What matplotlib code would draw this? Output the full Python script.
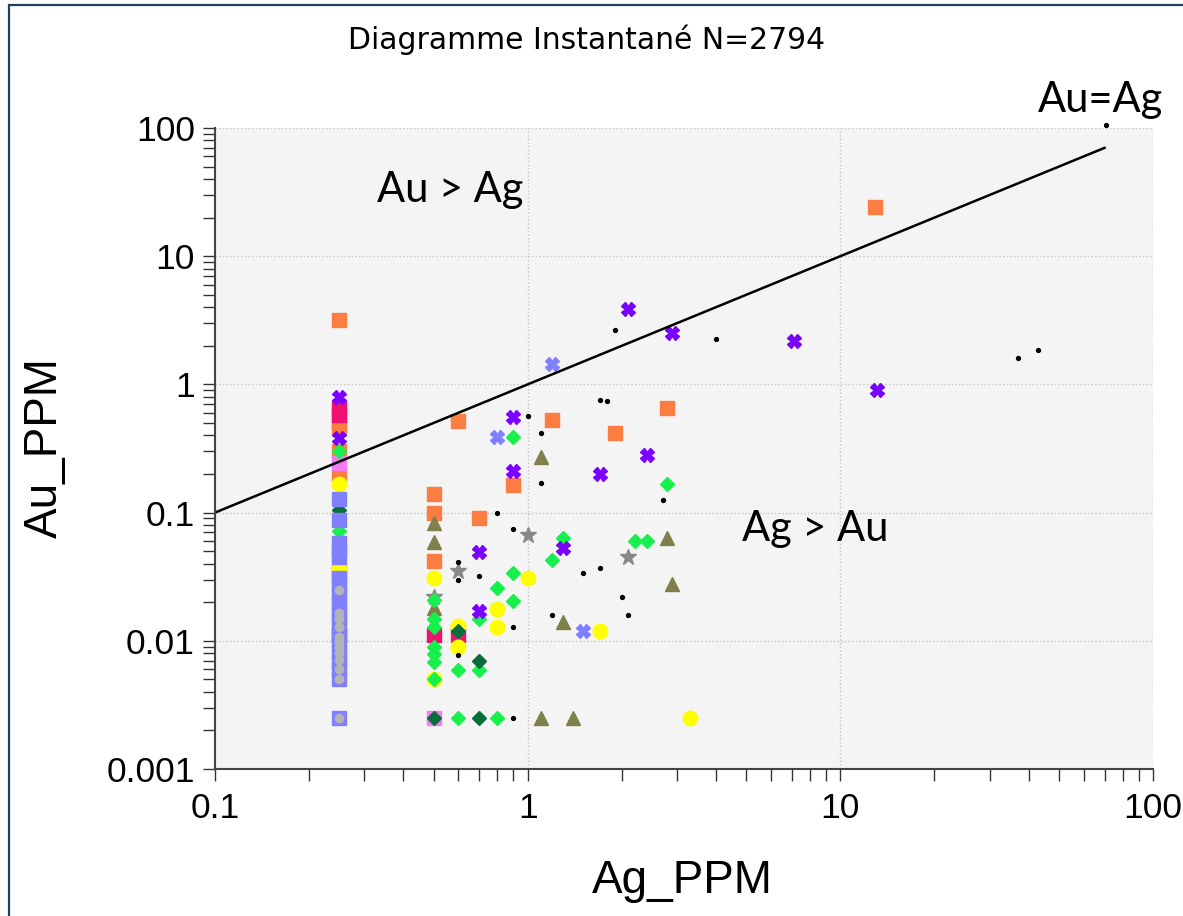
import matplotlib
matplotlib.use('Agg')
import matplotlib.pyplot as plt
from matplotlib.patches import Rectangle
from matplotlib.ticker import FixedLocator, LogLocator, NullFormatter

# data, grouped by legend class (x = Ag_PPM, y = Au_PPM)
orange_x = [0.25, 0.25, 0.25, 0.25, 0.25, 0.5, 0.5, 0.5, 0.6, 0.7, 0.9, 1.2, 1.9, 2.8, 12.9]
orange_y = [3.2, 0.5, 0.46, 0.3, 0.2, 0.139, 0.1, 0.042, 0.52, 0.09, 0.164, 0.53, 0.42, 0.66, 24]

magenta_x = [0.25, 0.25, 0.25, 0.25, 0.5, 0.6]
magenta_y = [0.65, 0.58, 0.035, 0.011, 0.011, 0.011]

pink_x = [0.25, 0.5]
pink_y = [0.245, 0.0025]

yellow_x = [0.25, 0.25, 0.5, 0.5, 0.6, 0.6, 0.8, 0.8, 1.0, 1.7, 3.3]
yellow_y = [0.167, 0.037, 0.031, 0.005, 0.0131, 0.0089, 0.0177, 0.0128, 0.031, 0.012, 0.0025]

olive_x = [0.5, 0.5, 0.5, 1.1, 1.1, 1.3, 1.4, 2.8, 2.9]
olive_y = [0.083, 0.059, 0.018, 0.27, 0.0025, 0.014, 0.0025, 0.063, 0.0276]

star_x = [0.5, 0.6, 1.0, 2.1]
star_y = [0.022, 0.035, 0.067, 0.045]

green_x = [0.25, 0.25, 0.5, 0.5, 0.5, 0.5, 0.5, 0.5, 0.5, 0.6, 0.6, 0.7, 0.7,
           0.8, 0.8, 0.9, 0.9, 0.9, 1.2, 1.3, 2.2, 2.4, 2.8]
green_y = [0.30, 0.072, 0.0208, 0.0148, 0.0128, 0.0089, 0.0079, 0.0068, 0.005, 0.0059, 0.0025, 0.0148, 0.0059,
           0.026, 0.0025, 0.39, 0.034, 0.0204, 0.043, 0.063, 0.06, 0.06, 0.166]

dkgreen_x = [0.25, 0.5, 0.6, 0.7, 0.7]
dkgreen_y = [0.105, 0.0025, 0.012, 0.007, 0.0025]

lavender_x = [0.25] * 19
lavender_y = [0.128, 0.088, 0.058, 0.051, 0.045, 0.031, 0.027, 0.023, 0.02, 0.017,
              0.015, 0.013, 0.011, 0.0095, 0.0082, 0.007, 0.006, 0.005, 0.0025]

grey_x = [0.25] * 12
grey_y = [0.025, 0.0164, 0.0149, 0.0128, 0.0107, 0.0098, 0.0089, 0.008, 0.0071, 0.006, 0.005, 0.0025]

purple_x = [0.25, 0.25, 0.7, 0.7, 0.9, 0.9, 1.3, 1.7, 2.1, 2.4, 2.9, 7.1, 13.1]
purple_y = [0.8, 0.38, 0.049, 0.017, 0.56, 0.21, 0.053, 0.2, 3.9, 0.28, 2.5, 2.2, 0.9]

bluex_x = [0.8, 1.2, 1.5]
bluex_y = [0.39, 1.45, 0.012]

dot_x = [0.6, 0.6, 0.6, 0.7, 0.8, 0.9, 0.9, 0.9, 1.0, 1.1, 1.1, 1.2, 1.5, 1.7, 1.7, 1.8,
         1.9, 2.0, 2.1, 2.7, 4.0, 37, 43, 71]
dot_y = [0.041, 0.03, 0.0077, 0.032, 0.1, 0.0745, 0.0128, 0.0025, 0.57, 0.42, 0.17, 0.016, 0.034, 0.037, 0.75, 0.74,
         2.65, 0.022, 0.016, 0.126, 2.25, 1.6, 1.85, 105]

line_x = [0.1, 70]
line_y = [0.1, 70]

x_ticks = [0.1, 1, 10, 100]
x_labels = ['0.1', '1', '10', '100']
y_ticks = [0.001, 0.01, 0.1, 1, 10, 100]
y_labels = ['0.001', '0.01', '0.1', '1', '10', '100']

W, H = 1183, 916
fig = plt.figure(figsize=(W / 100, H / 100), dpi=100)
fig.patches.append(Rectangle((9 / W, -0.02), 1.1, 1 - 5 / H + 0.02, transform=fig.transFigure,
                             fill=False, edgecolor='#22405e', linewidth=1.6))

ax = fig.add_axes([215 / W, 1 - 769 / H, (1153 - 215) / W, (769 - 128) / H])
ax.set_facecolor('#f4f4f4')
ax.set_xscale('log')
ax.set_yscale('log')
ax.set_xlim(0.1, 100)
ax.set_ylim(0.001, 100)

kw = dict(linestyle='none', clip_on=False)
ax.plot(orange_x, orange_y, marker='s', markersize=10, color='#fb7d42', **kw)
ax.plot(magenta_x, magenta_y, marker='s', markersize=10, color='#ef1070', **kw)
ax.plot(pink_x, pink_y, marker='s', markersize=10, color='#f37cf3', **kw)
ax.plot(yellow_x, yellow_y, marker='o', markersize=10.5, color='#ffff00', **kw)
ax.plot(olive_x, olive_y, marker='^', markersize=10.5, color='#80804a', **kw)
ax.plot(star_x, star_y, marker='*', markersize=12, color='#888888', **kw)
ax.plot(green_x, green_y, marker='D', markersize=7, color='#17f04c', **kw)
ax.plot(dkgreen_x, dkgreen_y, marker='D', markersize=7, color='#0a6e3c', **kw)
ax.plot(lavender_x, lavender_y, marker='s', markersize=10, color='#8080ff', **kw)
ax.plot(grey_x, grey_y, marker='o', markersize=6, color='#b4b4b4', **kw)
ax.plot(purple_x, purple_y, marker='X', markersize=10, color='#7a00ff', **kw)
ax.plot(bluex_x, bluex_y, marker='X', markersize=10, color='#8080ff', **kw)
ax.plot(dot_x, dot_y, marker='o', markersize=2.8, color='black', **kw)

ax.plot(line_x, line_y, color='black', linewidth=1.8)

ax.grid(True, which='major', linestyle=':', color='#c4c4c4', linewidth=1)
ax.set_axisbelow(True)

for s in ['top', 'right']:
    ax.spines[s].set_visible(False)
for s in ['left', 'bottom']:
    ax.spines[s].set_color('#444444')
    ax.spines[s].set_linewidth(1.5)

ax.xaxis.set_major_locator(FixedLocator(x_ticks))
ax.yaxis.set_major_locator(FixedLocator(y_ticks))
ax.set_xticklabels(x_labels)
ax.set_yticklabels(y_labels)
ax.xaxis.set_minor_locator(LogLocator(base=10, subs=range(2, 10)))
ax.yaxis.set_minor_locator(LogLocator(base=10, subs=range(2, 10)))
ax.xaxis.set_minor_formatter(NullFormatter())
ax.yaxis.set_minor_formatter(NullFormatter())
ax.tick_params(which='both', direction='out', length=8.5, width=1, color='#333333')
ax.tick_params(axis='y', which='major', pad=6)
ax.tick_params(axis='x', which='major', pad=8)
for lab in ax.get_xticklabels() + ax.get_yticklabels():
    lab.set_fontfamily('Liberation Sans')
    lab.set_fontsize(25.5)

fig.text(587 / W, 1 - 49 / H, 'Diagramme Instantané N=2794', ha='center', va='baseline',
         fontsize=21.5, family='DejaVu Sans')
fig.text(682 / W, 1 - 893 / H, 'Ag_PPM', ha='center', va='baseline', fontsize=33, family='Liberation Sans')
fig.text(57 / W, 1 - 448 / H, 'Au_PPM', ha='center', va='baseline', rotation=90, rotation_mode='anchor',
         fontsize=33, family='Liberation Sans')

fig.text(450 / W, 1 - 202 / H, 'Au > Ag', ha='center', va='baseline', fontsize=30, family='Lato')
fig.text(815 / W, 1 - 541 / H, 'Ag > Au', ha='center', va='baseline', fontsize=30, family='Lato')
fig.text(1100 / W, 1 - 112 / H, 'Au=Ag', ha='center', va='baseline', fontsize=30, family='Lato')

fig.savefig('out.png', dpi=100)
